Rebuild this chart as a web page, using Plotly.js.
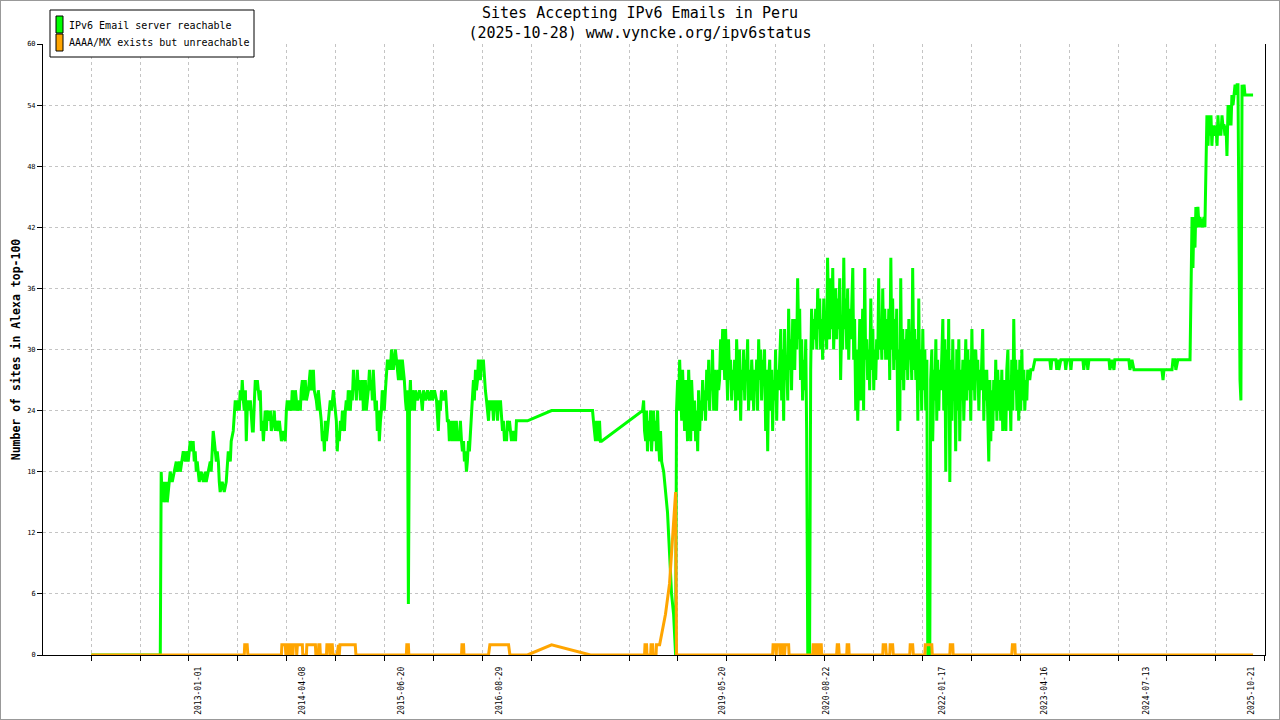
<!DOCTYPE html>
<html>
<head>
<meta charset="utf-8">
<script src="https://cdn.plot.ly/plotly-3.0.1.min.js"></script>
<style>
  html, body { margin: 0; padding: 0; background: #fff; }
  #chart { width: 1280px; height: 720px; }
  #frame { position: absolute; left: 0; top: 0; width: 1278px; height: 718px; border: 1px solid #999; pointer-events: none; }
</style>
</head>
<body>
<div id="chart"></div>
<div id="frame"></div>
<script>
// observations: [days since first sample (2011-09-13), number of sites]
const firstSample = '2011-09-13';

const reachable = [
  [0,0],[307,0],[311,18],[316,15],[320,17],[324,15],[329,16],[333,17],[338,15],[342,16],[347,17],[351,18],[360,17],[369,18],
  [378,19],[382,18],[391,19],[396,18],[404,19],[409,20],[418,19],[422,20],[431,19],[436,20],[440,21],[449,20],[453,21],[458,19],
  [462,20],[467,18],[471,19],[480,17],[489,18],[498,17],[507,18],[511,17],[520,18],[529,19],[533,18],[538,20],[542,22],[547,21],
  [551,20],[556,19],[560,20],[565,19],[569,17],[573,16],[582,17],[591,16],[600,17],[605,19],[609,20],[618,19],[622,21],[631,22],
  [636,24],[640,25],[649,24],[653,25],[658,24],[662,26],[667,25],[671,27],[676,25],[680,24],[685,26],[689,21],[693,24],[698,25],
  [702,24],[707,25],[716,22],[720,22],[725,25],[729,27],[733,26],[738,27],[747,25],[751,26],[756,22],[760,23],[765,21],[769,23],
  [773,24],[778,22],[782,24],[791,23],[796,24],[800,22],[809,23],[813,24],[818,22],[822,23],[831,22],[836,23],[840,22],[845,21],
  [853,22],[862,21],[867,24],[871,25],[876,24],[880,25],[889,24],[893,26],[898,25],[902,24],[907,26],[911,25],[916,24],[925,25],
  [929,24],[933,26],[938,27],[942,25],[947,26],[951,27],[956,25],[965,26],[969,27],[973,28],[978,26],[982,27],[987,28],[991,26],
  [1000,25],[1005,24],[1009,26],[1013,25],[1018,24],[1022,23],[1027,21],[1031,22],[1036,20],[1040,23],[1045,21],[1049,22],
  [1058,24],[1062,25],[1067,24],[1076,26],[1080,25],[1085,24],[1089,23],[1093,20],[1098,22],[1102,21],[1107,23],[1111,22],
  [1116,24],[1120,23],[1125,22],[1129,24],[1133,25],[1138,24],[1142,26],[1147,25],[1151,24],[1156,26],[1160,25],[1165,28],
  [1169,26],[1173,27],[1178,25],[1182,28],[1187,26],[1191,27],[1196,25],[1200,26],[1205,27],[1209,24],[1213,25],[1218,27],
  [1222,24],[1227,25],[1231,26],[1236,28],[1240,26],[1245,27],[1249,25],[1253,28],[1258,26],[1262,24],[1267,25],[1271,22],
  [1276,24],[1280,21],[1285,23],[1289,24],[1293,26],[1298,25],[1302,24],[1307,26],[1311,27],[1316,29],[1320,28],[1325,29],
  [1329,28],[1334,30],[1338,29],[1342,28],[1347,29],[1351,30],[1356,29],[1360,28],[1365,27],[1369,29],[1374,28],[1378,27],
  [1382,29],[1387,28],[1391,27],[1396,25],[1400,24],[1405,26],[1409,5],[1414,25],[1418,27],[1422,24],[1427,26],[1431,25],
  [1436,24],[1440,26],[1449,25],[1458,26],[1467,25],[1471,24],[1476,26],[1485,25],[1494,26],[1502,25],
  [1511,26],[1516,25],[1525,26],[1534,25],[1538,23],[1542,22],[1547,25],[1551,24],[1556,26],[1565,25],[1574,26],[1578,24],
  [1582,23],[1587,23],[1591,21],[1596,23],[1600,22],[1605,21],[1609,23],[1614,21],[1618,22],[1622,23],[1627,21],[1631,22],
  [1636,21],[1640,23],[1645,21],[1649,20],[1654,21],[1658,19],[1662,20],[1667,18],[1671,19],[1676,21],[1680,20],[1685,22],
  [1689,24],[1694,25],[1698,27],[1702,25],[1707,28],[1711,26],[1716,27],[1720,29],[1725,28],[1729,27],[1734,29],[1738,28],
  [1742,29],[1747,27],[1751,26],[1756,25],[1760,24],[1765,23],[1769,25],[1774,24],[1782,25],[1787,23],[1791,25],[1796,24],
  [1800,25],[1805,23],[1809,25],[1814,24],[1818,25],[1822,24],[1827,22],[1831,23],[1836,21],[1840,22],[1845,21],[1849,23],
  [1854,22],[1858,23],[1862,22],[1867,21],[1871,22],[1876,21],[1880,22],[1885,21],[1889,23],[1938,23],[2045,24],[2227,24],
  [2231,23],[2236,22],[2240,21],[2245,23],[2249,22],[2254,21],[2258,23],[2262,21],[2267,21],[2449,24],[2454,25],[2458,22],
  [2463,21],[2467,24],[2471,20],[2476,23],[2480,21],[2485,24],[2489,20],[2494,22],[2498,24],[2503,21],[2507,23],[2511,20],
  [2516,24],[2520,21],[2525,19],[2529,22],[2534,19],[2543,18],[2551,16],[2560,14],[2569,10],[2578,6],[2587,4],[2591,2],
  [2596,0],[2600,24],
  [2605,27],[2609,24],[2614,29],[2618,26],[2623,23],[2627,28],[2631,24],[2636,22],[2640,27],[2645,23],[2649,21],[2654,28],
  [2658,25],[2663,21],[2667,27],[2671,24],[2676,22],[2680,25],[2685,21],[2689,24],[2694,20],[2698,26],[2703,22],[2707,25],
  [2711,23],[2716,27],[2720,24],[2725,26],[2729,23],[2734,28],[2738,25],[2743,29],[2747,24],[2751,27],[2756,26],[2760,30],
  [2765,24],[2769,28],[2774,26],[2778,24],[2783,28],[2787,26],[2791,27],[2796,31],[2800,28],[2805,32],[2809,30],[2814,27],
  [2818,32],[2823,29],[2827,25],[2831,31],[2836,27],[2840,29],[2845,25],[2849,28],[2854,26],[2858,29],[2863,24],[2867,31],
  [2871,27],[2876,25],[2880,30],[2885,23],[2889,28],[2894,26],[2898,30],[2903,25],[2907,29],[2911,27],[2916,31],[2920,24],
  [2925,28],[2929,25],[2934,29],[2938,26],[2943,24],[2947,28],[2951,26],[2956,29],[2960,24],[2965,31],[2969,27],[2974,30],
  [2978,25],[2983,29],[2987,27],[2991,30],[2996,22],[3000,28],[3005,20],[3009,27],[3014,29],[3018,24],[3023,28],[3027,22],
  [3031,27],[3036,25],[3040,30],[3045,23],[3049,28],[3054,26],[3058,29],[3063,32],[3067,25],[3071,30],[3076,23],[3080,32],
  [3085,27],[3089,29],[3094,25],[3098,34],[3103,28],[3107,31],[3111,26],[3116,33],[3120,29],[3125,28],[3129,33],[3134,30],
  [3138,37],[3143,31],[3147,34],[3151,27],[3156,31],[3160,25],[3165,29],[3169,26],[3174,31],[3178,22],[3183,0],[3191,0],
  [3196,28],[3200,34],[3205,30],[3209,33],[3214,31],[3218,34],[3223,30],[3227,36],[3231,32],[3236,35],[3240,30],[3245,33],
  [3249,29],[3254,35],[3258,31],[3263,33],[3267,30],[3271,39],[3276,33],[3280,31],[3285,37],[3289,32],[3294,38],[3298,30],
  [3303,34],[3307,36],[3311,31],[3316,35],[3320,32],[3325,37],[3329,27],[3334,33],[3338,30],[3343,39],[3347,32],[3351,35],
  [3356,30],[3360,36],[3365,29],[3369,34],[3374,31],[3378,35],[3383,38],[3387,29],[3391,33],[3396,24],[3400,30],[3405,23],
  [3409,28],[3414,33],[3418,25],[3423,31],[3427,34],[3431,24],[3436,38],[3440,29],[3445,31],[3449,27],[3454,30],[3458,26],
  [3463,35],[3467,28],[3472,32],[3476,26],[3480,30],[3485,27],[3489,31],[3494,29],[3498,37],[3503,30],[3507,33],[3512,29],
  [3516,36],[3520,30],[3525,34],[3529,29],[3534,33],[3538,29],[3543,34],[3547,27],[3552,39],[3556,30],
  [3560,35],[3565,28],[3569,33],[3574,29],[3578,34],[3583,22],[3587,30],[3592,23],[3596,37],[3600,27],[3605,32],[3609,26],
  [3614,31],[3618,28],[3623,32],[3627,27],[3632,33],[3636,29],[3640,31],[3645,27],[3649,38],[3654,28],[3658,32],[3663,27],
  [3667,31],[3672,23],[3676,35],[3680,26],[3685,30],[3689,24],[3694,32],[3698,26],[3703,30],[3707,24],[3712,29],[3716,0],
  [3725,0],[3729,27],[3734,30],[3738,21],[3743,28],[3747,25],[3752,31],[3756,23],[3760,29],[3765,24],[3769,28],[3774,26],
  [3778,29],[3783,33],[3787,24],[3792,31],[3796,18],[3800,30],[3805,25],[3809,33],[3814,17],[3818,29],[3823,23],[3827,31],
  [3832,25],[3836,28],[3840,20],[3845,30],[3849,24],[3854,31],[3858,21],[3863,28],[3867,25],[3872,29],[3876,23],[3880,28],
  [3885,31],[3889,25],[3894,30],[3898,26],[3903,29],[3907,23],[3912,32],[3916,26],[3920,30],[3925,25],[3929,30],[3934,27],
  [3938,29],[3943,24],[3947,28],[3952,26],[3956,29],[3960,32],[3965,23],[3969,28],[3974,25],[3978,28],[3983,23],[3987,19],
  [3992,27],[3996,21],[4000,26],[4005,22],[4009,27],[4014,24],[4018,29],[4023,23],[4027,28],[4032,24],[4036,27],[4040,23],
  [4045,28],[4049,22],[4054,27],[4058,25],[4063,22],[4067,28],[4072,30],[4076,24],[4080,27],[4085,22],[4089,29],[4094,24],
  [4098,33],[4103,26],[4107,29],[4112,24],[4116,28],[4120,23],[4125,29],[4129,24],[4134,30],[4138,25],[4143,28],[4147,24],
  [4152,27],[4156,25],[4160,28],[4169,27],[4174,28],[4183,28],[4192,29],
  [4205,29],[4258,29],[4263,28],[4267,29],[4285,29],[4289,28],[4294,29],[4298,28],[4307,29],[4325,29],[4329,28],[4334,29],
  [4347,29],[4352,28],[4356,29],[4405,29],[4409,28],[4414,29],[4423,29],[4427,28],[4432,29],[4521,29],[4525,28],[4534,29],
  [4543,28],[4547,29],[4609,29],[4614,28],[4623,29],[4632,28],[4756,28],[4761,27],[4765,28],[4801,28],[4805,29],[4814,29],
  [4818,28],[4827,29],[4881,29],[4885,36],[4890,43],[4894,38],[4898,43],[4903,40],[4907,44],[4912,42],[4916,44],[4921,42],
  [4925,43],[4934,42],[4943,43],[4947,42],[4952,49],[4956,53],[4961,50],[4965,53],[4970,51],[4974,53],[4978,50],[4983,52],
  [4987,51],[4996,52],[5001,50],[5005,53],[5010,51],[5014,52],[5018,51],[5023,53],[5027,52],[5032,52],[5036,51],[5041,52],
  [5045,49],[5050,54],[5054,52],[5058,54],[5063,52],[5067,55],[5072,54],[5076,55],[5081,56],[5085,55],[5090,56],[5094,56],
  [5098,41],[5103,27],[5107,25],[5112,56],[5116,55],[5121,56],[5125,55],[5134,55],[5161,55]
];

const unreachable = [
  [0,0],[680,0],[682,1],[693,1],[696,0],[845,0],[847,1],[862,1],[865,0],[867,1],[876,1],[878,0],[880,1],[885,0],[887,1],
  [893,1],[896,0],[898,1],[911,1],[913,0],[916,1],[938,1],[940,0],[956,0],[958,1],[996,1],[998,0],[1009,0],[1011,1],[1016,1],
  [1018,0],[1045,0],[1047,1],[1058,1],[1060,0],[1062,1],[1071,1],[1074,0],[1093,0],[1096,1],[1098,1],[1100,0],[1102,0],
  [1105,1],[1173,1],[1176,0],[1400,0],[1402,1],[1409,1],[1411,0],[1645,0],[1647,1],[1654,1],[1656,0],[1765,0],[1771,1],
  [1854,1],[1860,0],[1938,0],[2045,1],[2218,0],[2458,0],[2460,1],[2467,1],[2469,0],[2485,0],[2487,1],[2494,1],[2496,0],
  [2509,0],[2511,1],[2525,1],[2534,2],[2551,4],[2569,7],[2578,10],[2587,14],[2596,16],[2600,0],[3027,0],[3029,1],[3040,1],
  [3043,0],[3045,1],[3058,1],[3060,0],[3063,1],[3071,1],[3074,0],[3080,0],[3083,1],[3098,1],[3100,0],[3205,0],[3207,1],
  [3214,1],[3216,0],[3223,0],[3225,1],[3229,1],[3231,0],[3236,0],[3238,1],[3243,1],[3245,0],[3311,0],[3314,1],[3320,1],
  [3323,0],[3356,0],[3358,1],[3365,1],[3367,0],[3516,0],[3518,1],[3529,1],[3532,0],[3547,0],[3549,1],[3560,1],[3563,0],
  [3636,0],[3638,1],[3649,1],[3652,0],[3703,0],[3705,1],[3734,1],[3736,0],[3814,0],[3816,1],[3827,1],[3829,0],[4089,0],
  [4092,1],[4103,1],[4105,0],[5161,0]
];

const seriesNames = ['IPv6 Email server reachable', 'AAAA/MX exists but unreachable'];
const seriesColors = ['#00ff00', '#ffa500'];

const tickDates = ['2013-01-01', '2014-04-08', '2015-06-20', '2016-08-29', '2019-05-20',
                   '2020-08-22', '2022-01-17', '2023-04-16', '2024-07-13', '2025-10-21'];

const t0 = Date.parse(firstSample + 'T00:00:00Z');
const dayToDate = d => new Date(t0 + d * 864e5).toISOString().slice(0, 10);

const W = 1280, H = 720;
const M = {l: 43, r: 15, t: 44, b: 65};
const plotW = W - M.l - M.r, plotH = H - M.t - M.b;
const xp = px => (px - M.l) / plotW;
const yp = py => (H - M.b - py) / plotH;

const mono = 'DejaVu Sans Mono, monospace';
const xRange = ['2011-02-11', '2025-12-22'];
const gridStyle = {showgrid: true, gridcolor: '#c4c4c4', gridwidth: 1, griddash: '3px,3px'};

const traces = [reachable, unreachable].map((obs, i) => ({
  type: 'scatter',
  mode: 'lines',
  name: seriesNames[i],
  x: obs.map(([d]) => dayToDate(d)),
  y: obs.map(([, n]) => n),
  line: {color: seriesColors[i], width: 3},
  hoverinfo: 'skip',
  showlegend: false,
}));

// hand-drawn legend box like the original
const legendShapes = [
  {type: 'rect', xref: 'paper', yref: 'paper', x0: xp(50), x1: xp(254), y0: yp(57), y1: yp(10),
   line: {color: '#000', width: 1}, fillcolor: '#fff', layer: 'above'},
  ...seriesColors.map((c, i) => ({
    type: 'rect', xref: 'paper', yref: 'paper', x0: xp(56), x1: xp(63),
    y0: yp(33 + 18 * i), y1: yp(16 + 18 * i),
    line: {color: '#000', width: 1}, fillcolor: c, layer: 'above'})),
];
const legendText = seriesNames.map((n, i) => ({
  text: n, xref: 'paper', yref: 'paper', x: xp(67), y: yp(25.5 + 17.5 * i),
  xanchor: 'left', yanchor: 'middle', showarrow: false,
  font: {family: mono, size: 10, color: '#000'},
}));

const layout = {
  width: W, height: H,
  margin: M,
  paper_bgcolor: '#fff', plot_bgcolor: '#fff',
  font: {family: mono, color: '#000'},
  showlegend: false,
  hovermode: false,
  title: {
    text: 'Sites Accepting IPv6 Emails in Peru<br>(2025-10-28) www.vyncke.org/ipv6status',
    font: {family: mono, size: 15, color: '#000'},
    x: 0.5, xanchor: 'center', y: 0.975, yanchor: 'top',
  },
  xaxis: {
    type: 'date', range: xRange,
    tickmode: 'linear', tick0: firstSample, dtick: 217.2 * 864e5,
    showticklabels: false, ticks: 'outside', ticklen: 5, tickcolor: '#000',
    showline: true, linecolor: '#000', linewidth: 1, zeroline: false,
    ...gridStyle,
  },
  xaxis2: {
    type: 'date', range: xRange, overlaying: 'x', anchor: 'y', side: 'bottom',
    tickmode: 'array', tickvals: tickDates, ticktext: tickDates,
    tickangle: -90, ticks: '', ticklabelstandoff: 9,
    tickfont: {family: mono, size: 8, color: '#000'},
    showgrid: false, showline: false, zeroline: false,
  },
  yaxis: {
    range: [0, 60], tickmode: 'linear', tick0: 0, dtick: 6,
    ticks: 'outside', ticklen: 5, tickcolor: '#000',
    tickfont: {family: mono, size: 7, color: '#000'},
    showline: true, linecolor: '#000', linewidth: 1, mirror: true, zeroline: false,
    ...gridStyle,
    title: {text: 'Number of sites in Alexa top-100', standoff: 4,
            font: {family: mono, size: 11.5, color: '#000', weight: 'bold'}},
  },
  shapes: legendShapes,
  annotations: legendText,
};

// an empty trace so the label axis is drawn
traces.push({type: 'scatter', x: [], y: [], xaxis: 'x2', yaxis: 'y', showlegend: false, hoverinfo: 'skip'});

Plotly.newPlot('chart', traces, layout, {staticPlot: true, displayModeBar: false});
</script>
</body>
</html>
